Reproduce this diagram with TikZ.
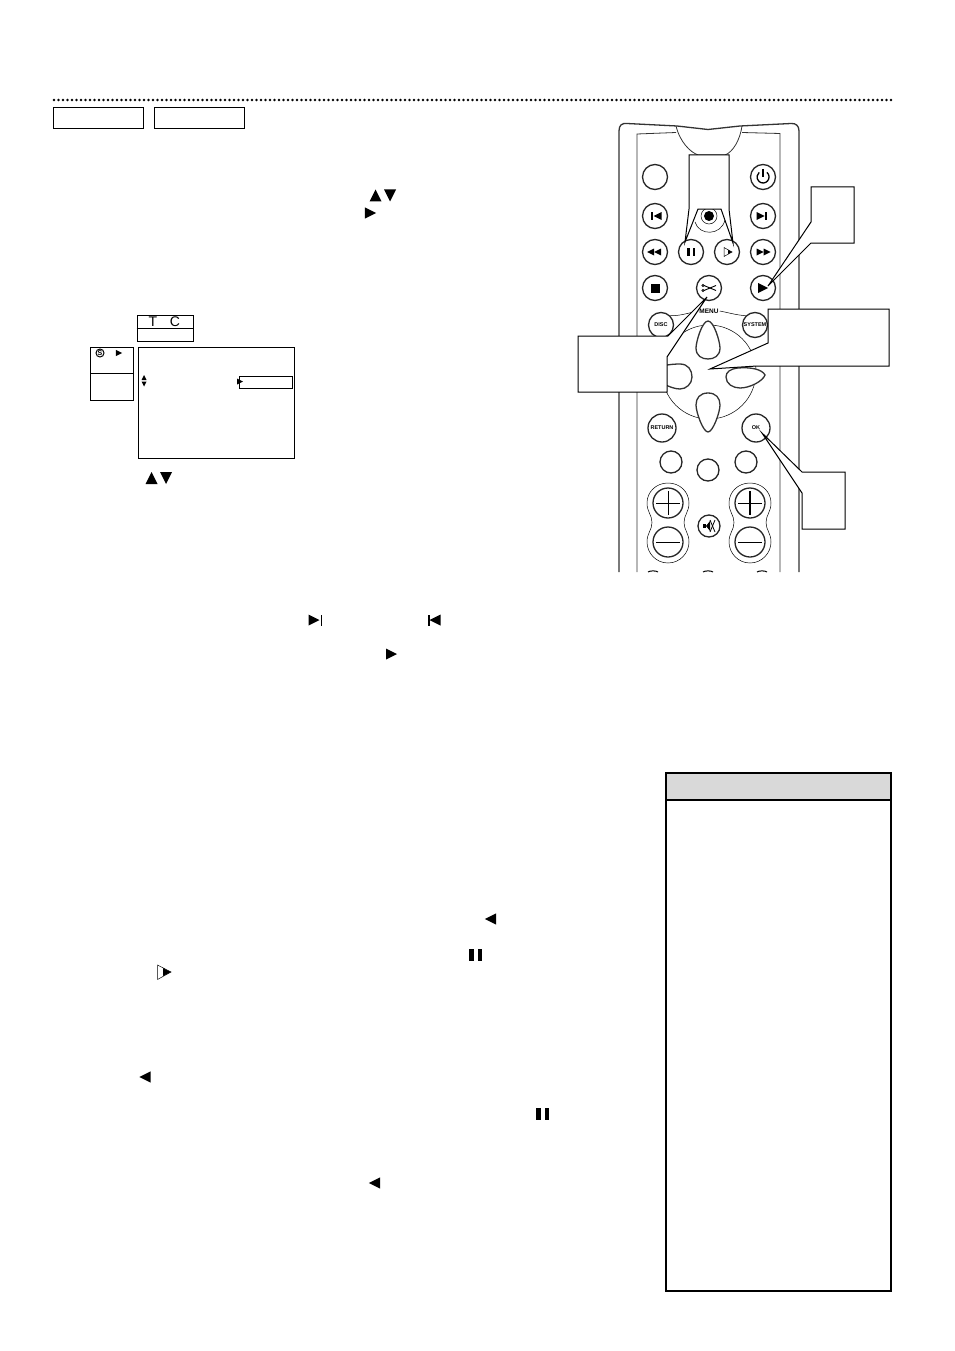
\documentclass[tikz,border=0pt]{standalone}
\usepackage{fontspec}
\setmainfont{Liberation Sans}
\usepackage{tikz}
\usetikzlibrary{shapes.geometric}
\tikzstyle{btn} = [circle, draw=black!85, line width=1.3pt, fill=white, inner sep=0pt, minimum size=25pt, font=\fontsize{5.5}{6}\selectfont\bfseries]
\tikzstyle{smallbtn} = [btn, minimum size=22pt]
\tikzstyle{volbtn} = [btn, minimum size=30pt]
\tikzstyle{frame} = [draw, line width=1pt]
\tikzstyle{callout} = [draw, fill=white, line width=1pt, line join=miter]
\tikzstyle{shell} = [draw, line width=1.3pt, black!80]
\tikzstyle{thin line} = [draw, line width=0.5pt]
\newcommand{\triright}[2]{\fill #1 ++(-#2,-#2) -- ++(2*#2,#2) -- ++(-2*#2,#2) -- cycle;}
\newcommand{\trileft}[2]{\fill #1 ++(#2,-#2) -- ++(-2*#2,#2) -- ++(2*#2,#2) -- cycle;}
\newcommand{\triup}[2]{\fill #1 ++(-#2,#2) -- ++(#2,-2*#2) -- ++(#2,2*#2) -- cycle;}
\newcommand{\tridown}[2]{\fill #1 ++(-#2,-#2) -- ++(#2,2*#2) -- ++(#2,-2*#2) -- cycle;}
\newcommand{\pausebars}[1]{\fill #1 ++(-6.5,-6) rectangle ++(4.5,12); \fill #1 ++(2,-6) rectangle ++(4.5,12);}
\newcommand{\volcase}[1]{\path [thin line] (#1,483) .. controls (#1+12,483) and (#1+21,492) .. (#1+21,503) .. controls (#1+21,512) and (#1+16,515) .. (#1+16,522.5) .. controls (#1+16,530) and (#1+21,533) .. (#1+21,542) .. controls (#1+21,553) and (#1+12,563) .. (#1,563) .. controls (#1-12,563) and (#1-21,553) .. (#1-21,542) .. controls (#1-21,533) and (#1-16,530) .. (#1-16,522.5) .. controls (#1-16,515) and (#1-21,512) .. (#1-21,503) .. controls (#1-21,492) and (#1-12,483) .. (#1,483) -- cycle;}
\begin{document}
\begin{tikzpicture}[x=1pt,y=-1pt]
  \useasboundingbox (0,0) rectangle (954,1351);
  % heading
  \draw [line width=2.7pt, line cap=round, dash pattern=on 0pt off 4.5pt] (54,100) -- (892,100);
  \node [frame, minimum width=90pt, minimum height=21pt, inner sep=0pt] (tabone) at (98.5,118) {};
  \node [frame, minimum width=90pt, minimum height=21pt, inner sep=0pt] (tabtwo) at (199.5,118) {};
  % symbols in the text
  \triup{(375.5,195.5)}{6}
  \tridown{(390,195.5)}{6}
  \triright{(370.5,213)}{5.7}
  \triup{(151.5,478)}{6}
  \tridown{(166,478)}{6}
  \triright{(314,620)}{5.5}
  \fill (320.5,614.5) rectangle (322,625.5);
  \trileft{(435,620)}{5.5}
  \fill (428,614.5) rectangle (429.5,625.5);
  \triright{(391.5,654)}{5.5}
  \trileft{(490.5,919)}{5.7}
  \pausebars{(475.5,955)}
  \draw [line width=0.5pt] (157.5,965) -- (171,972) -- (157.5,979.5) -- cycle;
  \triright{(167,972)}{4}
  \trileft{(145,1077)}{5.7}
  \pausebars{(542.5,1114)}
  \trileft{(374.5,1183)}{5.7}
  % on-screen menu
  \node [frame, minimum width=56pt, minimum height=26pt, inner sep=0pt] (tcbox) at (165,328) {};
  \draw [line width=0.8pt] (tcbox.west) -- (tcbox.east);
  \node [font=\fontsize{14}{14}\selectfont] (tlabel) at (153,322) {T};
  \node [font=\fontsize{14}{14}\selectfont] (clabel) at (175,322) {C};
  \node [frame, minimum width=43pt, minimum height=53pt, inner sep=0pt] (sidebox) at (112,373.5) {};
  \draw [line width=0.8pt] (sidebox.west) -- (sidebox.east);
  \node [frame, minimum width=156pt, minimum height=111pt, inner sep=0pt] (screen) at (216.3,402.5) {};
  \node [frame, minimum width=53pt, minimum height=12pt, inner sep=0pt] (selbar) at (266,382) {};
  \triright{(240,381.5)}{3}
  \triup{(144,377.5)}{2.5}
  \tridown{(144,384)}{2.5}
  \node [circle, draw, line width=1pt, minimum size=8pt, inner sep=0pt, font=\fontsize{7}{7}\selectfont\bfseries] (clockicon) at (100,353) {S};
  \triright{(119,353)}{3.2}
  % remote shell
  \path [shell] (619,572) -- (619,131) .. controls (619,125) and (622,123) .. (627,123.5) -- (677,126) -- (708,129.5) -- (740,126) -- (791,123.5) .. controls (796,123) and (799,126) .. (799,131) -- (799,572);
  \path [shell, line width=0.8pt] (637,572) -- (637,134) -- (676,132.5);
  \path [shell, line width=0.8pt] (742,132.5) -- (780,133.5) -- (780,572);
  \path [shell, line width=0.8pt] (676,126) .. controls (680,142) and (690,152) .. (698,155) -- (725,155) .. controls (733,152) and (740,140) .. (742,126);
  % keys
  \node [btn] (blank) at (655,177) {};
  \node [btn] (power) at (763,177) {};
  \node [btn] (prevkey) at (655,216) {};
  \node [btn] (nextkey) at (763,216) {};
  \node [btn] (rew) at (655,252) {};
  \node [btn] (pausekey) at (691,252) {};
  \node [btn] (slow) at (727,252) {};
  \node [btn] (ffw) at (763,252) {};
  \node [btn] (stopkey) at (655,288) {};
  \node [btn] (cutkey) at (709,288) {};
  \node [btn] (playkey) at (763,288) {};
  \node [btn] (disc) at (661,325) {DISC};
  \node [btn] (system) at (755,325) {SYSTEM};
  \node [btn, minimum size=28pt] (returnkey) at (662,428) {RETURN};
  \node [btn, minimum size=28pt] (okkey) at (756,428) {OK};
  \node [smallbtn] (smallone) at (671,462) {};
  \node [smallbtn] (smalltwo) at (708,470) {};
  \node [smallbtn] (smallthree) at (746,462) {};
  \node [smallbtn] (mute) at (709,526) {};
  \volcase{668}
  \volcase{750}
  \node [volbtn] (volplus) at (668,503) {};
  \node [volbtn] (volminus) at (668,542) {};
  \node [volbtn] (chplus) at (750,503) {};
  \node [volbtn] (chminus) at (750,542) {};
  % key faces
  \draw [line width=1.3pt] (766.9,172.4) arc [start angle=-50, end angle=230, radius=6];
  \draw [line width=1.3pt] (763,169) -- (763,177);
  \fill (653,212) rectangle (651,220);
  \trileft{(657.5,216)}{4}
  \fill (765,212) rectangle (767,220);
  \triright{(760.5,216)}{4}
  \trileft{(650.5,252)}{3.5}
  \trileft{(657.5,252)}{3.5}
  \triright{(760,252)}{3.5}
  \triright{(767,252)}{3.5}
  \fill (687,248) rectangle (689.5,256);
  \fill (692.5,248) rectangle (695,256);
  \draw [line width=0.5pt] (724,247.5) -- (732,252) -- (724,256.5) -- cycle;
  \triright{(730,252)}{2}
  \fill (650.5,283.5) rectangle (659.5,292.5);
  \triright{(763,288)}{5}
  \draw [line width=0.9pt] (704,285.5) -- (716,290.5);
  \draw [line width=0.9pt] (704,290.5) -- (716,285.5);
  \draw [line width=0.7pt] (703,285.5) circle [radius=1.2];
  \draw [line width=0.7pt] (703,290.5) circle [radius=1.2];
  \fill (703,524) rectangle (706,528);
  \fill (706,526) -- (710,521) -- (710,531) -- cycle;
  \draw [line width=0.8pt] (710,520) -- (715,532);
  \draw [line width=0.8pt] (710,532) -- (715,520);
  \draw [line width=0.8pt] (668,491) -- (668,515);
  \draw [line width=0.8pt] (656,503) -- (680,503);
  \draw [line width=0.8pt] (656,542) -- (680,542);
  \draw [line width=1.4pt] (750,491) -- (750,515);
  \draw [line width=0.8pt] (738,503) -- (762,503);
  \draw [line width=0.8pt] (738,542) -- (762,542);
  % record key
  \draw [line width=0.5pt] (709,216) circle [radius=8];
  \draw [line width=0.5pt] (695,222) .. controls (699,236) and (721,236) .. (725,220);
  \fill (709,216) circle [radius=5];
  % menu ring
  \draw [line width=0.5pt] (709,372) circle [radius=47];
  \node [font=\fontsize{6.5}{7}\selectfont\bfseries, fill=white, inner sep=1pt] (menulabel) at (709,311) {MENU};
  \draw [line width=0.5pt] (disc.north east) .. controls (680,316) and (688,313) .. (menulabel.west);
  \draw [line width=0.5pt] (menulabel.east) .. controls (730,313) and (736,315) .. (system.north west);
  % arrow petals
  \path [shell, fill=white] (708,321) .. controls (702,321) and (696,342) .. (696,348) .. controls (696,356) and (702,359) .. (708,359) .. controls (714,359) and (720,356) .. (720,348) .. controls (720,342) and (714,321) .. (708,321) -- cycle;
  \path [shell, fill=white] (708,393) .. controls (700,393) and (696,398) .. (696,405) .. controls (696,412) and (703,432) .. (708,432) .. controls (713,432) and (720,412) .. (720,405) .. controls (720,398) and (716,393) .. (708,393) -- cycle;
  \path [shell, fill=white] (650,372) .. controls (655,366) and (670,364) .. (680,364) .. controls (688,364) and (692,370) .. (692,377) .. controls (692,384) and (686,389) .. (680,389) .. controls (670,389) and (655,380) .. (650,372) -- cycle;
  \path [shell, fill=white] (765,375) .. controls (762,369) and (750,367) .. (738,368) .. controls (730,369) and (726,372) .. (726,377) .. controls (726,384) and (733,388) .. (740,388) .. controls (750,388) and (763,381) .. (765,375) -- cycle;
  % next row, cut off
  \draw [line width=1pt] (648,572) .. controls (650,570.5) and (656,570.5) .. (658,572);
  \draw [line width=1pt] (703,572) .. controls (705,570.5) and (711,570.5) .. (713,572);
  \draw [line width=1pt] (757,572) .. controls (759,570.5) and (765,570.5) .. (767,572);
  % callouts
  \coordinate (pausetip) at (685,242);
  \coordinate (slowtip) at (733,243);
  \coordinate (playtip) at (768,286);
  \coordinate (cuttip) at (707,297);
  \coordinate (padtip) at (710,369);
  \coordinate (oktip) at (762,433);
  \path [callout] (689,155) -- (729,155) -- (729,209) -- (slowtip) -- (721,209) -- (698,209) -- (pausetip) -- (689,209) -- cycle;
  \path [callout] (811,187) -- (854,187) -- (854,243) -- (811,243) -- (playtip) -- (811,222) -- cycle;
  \path [callout] (578,336) -- (668,336) -- (cuttip) -- (667,357) -- (667,392) -- (578,392) -- cycle;
  \path [callout] (768,309) -- (889,309) -- (889,366) -- (757,366) -- (padtip) -- (768,343) -- cycle;
  \path [callout] (802,472) -- (845,472) -- (845,529) -- (802,529) -- (802,493) -- (oktip) -- cycle;
  % note box
  \node [draw, line width=2pt, minimum width=225pt, minimum height=518pt, inner sep=0pt] (notebox) at (778.5,1032) {};
  \node [draw, line width=2pt, fill=black!15, minimum width=225pt, minimum height=27pt, inner sep=0pt] (notehead) at (778.5,786.5) {};
\end{tikzpicture}
\end{document}
